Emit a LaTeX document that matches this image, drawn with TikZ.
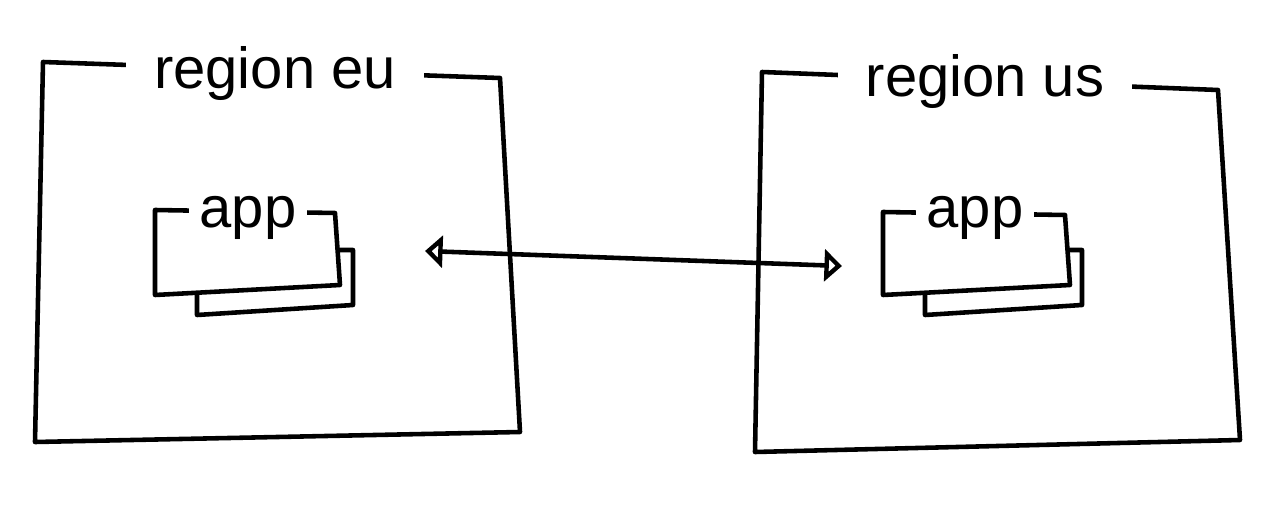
\documentclass[tikz,border=0pt]{standalone}
\usepackage{fontspec}
\setmainfont{Liberation Sans}
\usetikzlibrary{arrows.meta}
\tikzset{
  outline/.style={line width=2.6pt, line join=round, line cap=round},
  regbox/.style={outline, fill=white},
  lbl/.style={fill=white, inner xsep=16pt, inner ysep=2pt,
              font=\fontsize{33}{33}\selectfont},
  applbl/.style={lbl, inner xsep=6pt},
  arr/.style={outline,
    {Triangle[open, length=10pt, width=18pt]}-{Triangle[open, length=10pt, width=18pt]}}
}

\begin{document}
\begin{tikzpicture}[x=0.02cm, y=-0.02cm]
  \useasboundingbox (0,0) rectangle (1278,513);

  %% -- region eu --------------------------------------------
  \draw[regbox] (43,62) -- (500,78) -- (520,432) -- (35,442) -- cycle;
  \node[lbl] (eu) at (275,74) {region eu};

  \draw[regbox] (197,250) -- (353,250) -- (353,305) -- (197,315) -- cycle;
  \draw[regbox] (155,210) -- (335,213) -- (340,285) -- (155,295) -- cycle;
  \node[applbl] (appeu) at (248,218) {app};

  %% -- region us --------------------------------------------
  \draw[regbox] (762,72) -- (1218,90) -- (1240,440) -- (755,452) -- cycle;
  \node[lbl] (us) at (985,82) {region us};

  \draw[regbox] (925,250) -- (1082,250) -- (1082,305) -- (925,315) -- cycle;
  \draw[regbox] (883,212) -- (1065,215) -- (1070,285) -- (883,295) -- cycle;
  \node[applbl] (appus) at (975,218) {app};

  %% replication
  \coordinate (src) at (425,251);
  \coordinate (dst) at (842,266);
  \draw[arr] (src) -- (dst);
\end{tikzpicture}
\end{document}
